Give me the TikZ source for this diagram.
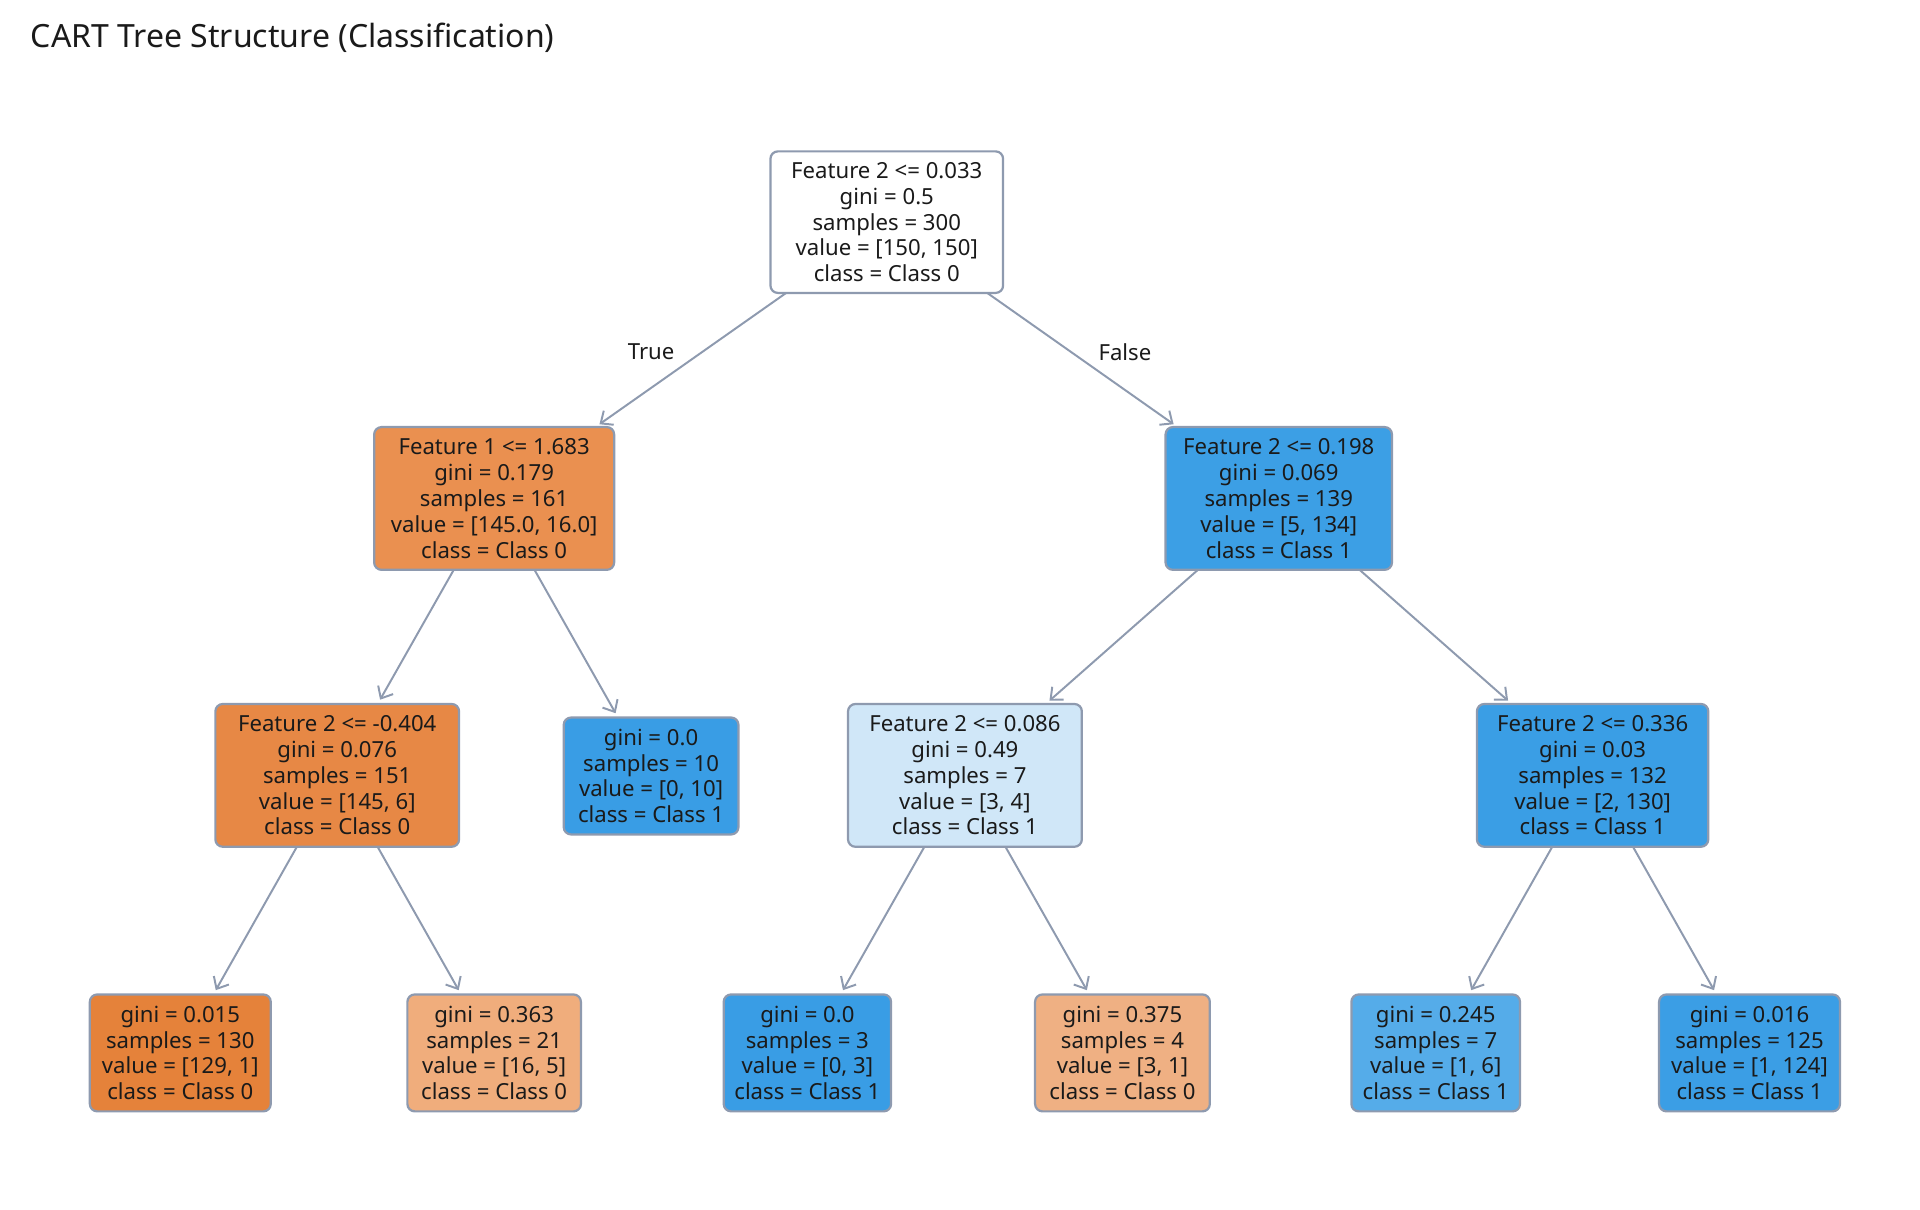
\documentclass[tikz,border=0pt]{standalone}
\usepackage{fontspec}
\setmainfont{Noto Sans}
\usetikzlibrary{arrows.meta}
\definecolor{edgec}{HTML}{8E9AAF}
\definecolor{txt}{HTML}{1A1A1A}
\definecolor{cl1}{HTML}{EA9050}
\definecolor{cr1}{HTML}{3C9FE5}
\definecolor{cll}{HTML}{E78845}
\definecolor{clr}{HTML}{399DE5}
\definecolor{crl}{HTML}{D0E7F8}
\definecolor{crr}{HTML}{3A9EE5}
\definecolor{ca}{HTML}{E5823A}
\definecolor{cb}{HTML}{F0AD7C}
\definecolor{cc}{HTML}{399DE5}
\definecolor{cd}{HTML}{EFB083}
\definecolor{ce}{HTML}{55ACE9}
\definecolor{cf}{HTML}{3B9EE5}
\begin{document}
\begin{tikzpicture}[x=0.5pt,y=-0.5pt,
  tn/.style={draw=edgec,line width=0.9pt,rounded corners=3pt,align=center,inner sep=0pt,outer sep=0pt,text=txt,font=\fontsize{9}{10.5}\selectfont},
  ed/.style={draw=edgec,line width=0.8pt,-{Straight Barb[length=4pt,width=7pt]},shorten >=2pt}]
\useasboundingbox (0,0) rectangle (1560,983);
\node[anchor=west,font=\fontsize{13}{15}\selectfont,text=txt] (title) at (18,31) {CART Tree Structure (Classification)};
\node[tn,fill=white,minimum width=94.5pt,minimum height=57.5pt] (root) at (720.5,180.5) {Feature 2 <= 0.033\\gini = 0.5\\samples = 300\\value = [150, 150]\\class = Class 0};
\node[tn,fill=cl1,minimum width=97.5pt,minimum height=58pt] (l1) at (401.5,405) {Feature 1 <= 1.683\\gini = 0.179\\samples = 161\\value = [145.0, 16.0]\\class = Class 0};
\node[tn,fill=cr1,minimum width=92pt,minimum height=58pt] (r1) at (1039,405) {Feature 2 <= 0.198\\gini = 0.069\\samples = 139\\value = [5, 134]\\class = Class 1};
\node[tn,fill=cll,minimum width=99pt,minimum height=58pt] (ll) at (274,630) {Feature 2 <= -0.404\\gini = 0.076\\samples = 151\\value = [145, 6]\\class = Class 0};
\node[tn,fill=clr,minimum width=71pt,minimum height=47.5pt] (lr) at (529,630.5) {gini = 0.0\\samples = 10\\value = [0, 10]\\class = Class 1};
\node[tn,fill=crl,minimum width=95pt,minimum height=58pt] (rl) at (784,630) {Feature 2 <= 0.086\\gini = 0.49\\samples = 7\\value = [3, 4]\\class = Class 1};
\node[tn,fill=crr,minimum width=94pt,minimum height=58pt] (rr) at (1294,630) {Feature 2 <= 0.336\\gini = 0.03\\samples = 132\\value = [2, 130]\\class = Class 1};
\node[tn,fill=ca,minimum width=73.5pt,minimum height=47.5pt] (a) at (146.5,855.5) {gini = 0.015\\samples = 130\\value = [129, 1]\\class = Class 0};
\node[tn,fill=cb,minimum width=70.5pt,minimum height=47.5pt] (b) at (401.5,855.5) {gini = 0.363\\samples = 21\\value = [16, 5]\\class = Class 0};
\node[tn,fill=cc,minimum width=68pt,minimum height=47.5pt] (c) at (656,855.5) {gini = 0.0\\samples = 3\\value = [0, 3]\\class = Class 1};
\node[tn,fill=cd,minimum width=71pt,minimum height=47.5pt] (d) at (912,855.5) {gini = 0.375\\samples = 4\\value = [3, 1]\\class = Class 0};
\node[tn,fill=ce,minimum width=68.5pt,minimum height=47.5pt] (e) at (1166.5,855.5) {gini = 0.245\\samples = 7\\value = [1, 6]\\class = Class 1};
\node[tn,fill=cf,minimum width=73.5pt,minimum height=47.5pt] (f) at (1421.5,855.5) {gini = 0.016\\samples = 125\\value = [1, 124]\\class = Class 1};
\draw[ed] (root) -- (l1);
\draw[ed] (root) -- (r1);
\draw[ed] (l1) -- (ll);
\draw[ed] (l1) -- (lr);
\draw[ed] (r1) -- (rl);
\draw[ed] (r1) -- (rr);
\draw[ed] (ll) -- (a);
\draw[ed] (ll) -- (b);
\draw[ed] (rl) -- (c);
\draw[ed] (rl) -- (d);
\draw[ed] (rr) -- (e);
\draw[ed] (rr) -- (f);
\node[font=\fontsize{9}{10.5}\selectfont,text=txt] (tl) at (529,286) {True};
\node[font=\fontsize{9}{10.5}\selectfont,text=txt] (fl) at (914,286) {False};
\end{tikzpicture}
\end{document}
